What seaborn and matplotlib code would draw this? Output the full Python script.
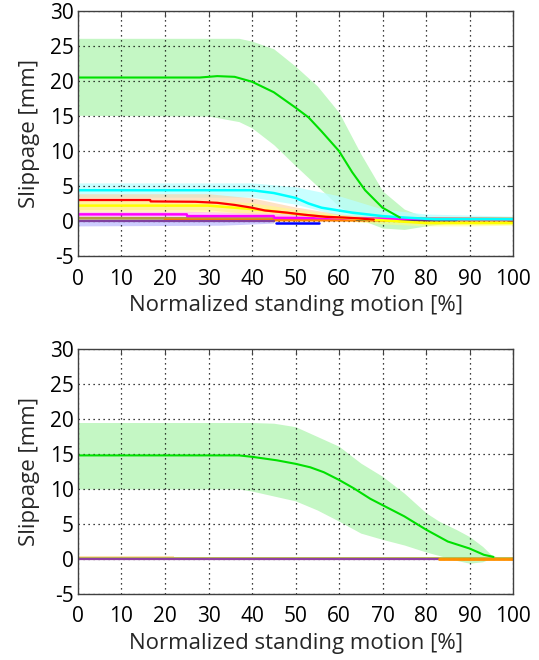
import numpy as np
import pandas as pd
import matplotlib
matplotlib.use("Agg")
import matplotlib.pyplot as plt
import seaborn as sns

# ---------------- data ----------------
# Top panel
top_green_x = [0, 28, 32, 36, 40, 45, 50, 53, 56, 60, 63, 66, 70, 74]
top_green_m = [20.5, 20.5, 20.7, 20.6, 19.9, 18.4, 16.2, 14.8, 12.8, 10.0, 7.0, 4.4, 1.9, 0.5]
top_green_bx = [0, 30, 37, 40, 45, 50, 55, 60, 65, 70, 75, 80, 85, 88]
top_green_hi = [26.1, 26.1, 26.1, 25.7, 24.6, 22.1, 19.3, 15.5, 9.6, 4.3, 1.7, 0.5, 0.2, 0.2]
top_green_lo = [15.1, 15.0, 14.2, 13.3, 10.9, 7.9, 5.0, 2.1, 0.2, -1.0, -1.2, -0.7, -0.3, -0.2]

top_cyan_x = [0, 40, 45, 50, 53, 56, 60, 63, 70, 75, 82, 100]
top_cyan_m = [4.4, 4.4, 4.0, 3.3, 2.5, 1.9, 1.5, 1.2, 0.7, 0.5, 0.25, 0.25]
top_cyan_bx = [0, 40, 50, 60, 70, 80, 100]
top_cyan_hi = [5.45, 5.45, 4.9, 3.6, 1.7, 1.0, 0.7]
top_cyan_lo = [3.4, 3.4, 2.4, 0.8, 0.2, -0.1, -0.1]

top_red_x = [0, 16.6, 16.7, 27, 32, 36, 40, 43, 48, 52, 57, 61, 64, 68]
top_red_m = [3.0, 3.0, 2.8, 2.75, 2.6, 2.3, 1.9, 1.5, 1.2, 0.9, 0.6, 0.5, 0.4, 0.2]
top_red_bx = [0, 30, 40, 50, 60, 70, 80]
top_red_hi = [3.9, 3.9, 3.3, 2.0, 1.0, 0.5, 0.3]
top_red_lo = [1.6, 1.6, 1.0, 0.3, 0.0, -0.1, -0.1]

top_yellow_x = [0, 30, 40, 45, 50, 55, 60, 65, 70, 80, 90, 100]
top_yellow_m = [2.2, 2.2, 1.7, 1.4, 1.0, 0.7, 0.5, 0.3, 0.1, -0.3, -0.3, -0.3]
top_yellow_bx = [0, 30, 40, 50, 60, 70, 80, 90, 100]
top_yellow_hi = [3.0, 3.0, 2.6, 1.7, 0.9, 0.3, 0.0, 0.0, 0.0]
top_yellow_lo = [1.2, 1.2, 0.9, 0.4, 0.1, -0.4, -0.7, -0.7, -0.6]

top_magenta_x = [0, 25, 25.1, 45, 45.1, 60, 70, 100]
top_magenta_m = [0.95, 0.95, 0.7, 0.7, 0.45, 0.4, 0.3, 0.25]
top_magenta_bx = [0, 25, 45, 60, 75]
top_magenta_hi = [1.4, 1.4, 1.1, 0.7, 0.4]
top_magenta_lo = [0.5, 0.5, 0.3, 0.1, 0.0]

top_olive_x = [0, 100]
top_olive_m = [0.4, 0.3]
top_orange_x = [20, 100]
top_orange_m = [0.15, 0.1]
top_purple_x = [0, 45]
top_purple_m = [0.0, 0.0]
top_purple_bx = [0, 33, 45]
top_purple_hi = [0.3, 0.3, 0.1]
top_purple_lo = [-0.7, -0.6, -0.3]
top_blue_x = [45.5, 55.5]
top_blue_m = [-0.33, -0.33]
top_dark_x = [64, 71, 78, 87]
top_dark_m = [0.25, 0.25, 0.15, 0.15]

# Bottom panel
bot_green_x = [0, 37, 40, 45.7, 50, 53.4, 56.5, 60, 63.4, 67.2, 70, 75, 80, 85, 90, 93.3, 95.5]
bot_green_m = [14.8, 14.8, 14.6, 14.1, 13.6, 13.1, 12.4, 11.3, 10.1, 8.6, 7.7, 6.1, 4.2, 2.5, 1.5, 0.6, 0.3]
bot_green_bx = [0, 37, 40, 45, 50, 55, 60, 65, 70, 75, 80, 83, 87, 90, 93, 95, 97.5]
bot_green_hi = [19.5, 19.5, 19.5, 19.4, 18.9, 17.5, 16.1, 13.7, 11.8, 9.4, 6.6, 5.4, 4.2, 3.2, 1.8, 0.6, 0.0]
bot_green_lo = [10.0, 10.0, 9.7, 9.0, 8.3, 7.0, 5.4, 3.7, 2.8, 2.0, 1.0, 0.5, -0.2, -0.6, -0.4, 0.1, 0.0]

bot_olive_x = [0, 100]
bot_olive_m = [0.2, 0.2]
bot_purple_x = [0, 83]
bot_purple_m = [0.0, 0.0]
bot_orange_x = [83, 100]
bot_orange_m = [0.0, 0.0]
bot_peach_bx = [0, 22]
bot_peach_hi = [0.4, 0.4]
bot_peach_lo = [0.0, 0.0]

x_ticks = [0, 10, 20, 30, 40, 50, 60, 70, 80, 90, 100]
y_ticks = [-5, 0, 5, 10, 15, 20, 25, 30]
x_label = "Normalized standing motion [%]"
y_label = "Slippage [mm]"

# ---------------- styling ----------------
sns.set_style("white")
plt.rcParams['font.family'] = ['Open Sans', 'DejaVu Sans']

fig = plt.figure(figsize=(5.39, 6.60), dpi=100)
ax1 = fig.add_axes([0.1447, 0.6121, 0.8071, 0.3712])
ax2 = fig.add_axes([0.1447, 0.1000, 0.8071, 0.3712])


def band(ax, x, lo, hi, color, alpha=1.0, z=1):
    ax.fill_between(x, lo, hi, color=color, alpha=alpha, linewidth=0, zorder=z)


def line(ax, x, y, color, lw=1.5, z=3):
    df = pd.DataFrame({"x": x, "y": y})
    sns.lineplot(data=df, x="x", y="y", ax=ax, color=color, linewidth=lw,
                 zorder=z, estimator=None, sort=False)


# top bands
band(ax1, top_green_bx, top_green_lo, top_green_hi, "#c4f7c4", 1.0, 1)
band(ax1, top_cyan_bx, top_cyan_lo, top_cyan_hi, "#b8ffff", 0.75, 1.2)
band(ax1, top_red_bx, top_red_lo, top_red_hi, "#ffcf9f", 0.6, 1.3)
band(ax1, top_yellow_bx, top_yellow_lo, top_yellow_hi, "#ffff80", 0.55, 1.4)
band(ax1, top_magenta_bx, top_magenta_lo, top_magenta_hi, "#ffb0ff", 0.6, 1.5)
band(ax1, top_purple_bx, top_purple_lo, top_purple_hi, "#b8b8ff", 0.7, 1.1)

# top lines
line(ax1, top_olive_x, top_olive_m, "#b0a040", 2.0, 2.5)
line(ax1, top_orange_x, top_orange_m, "#ff8000", 2.0, 2.6)
line(ax1, top_purple_x, top_purple_m, "#8040a0", 1.6, 2.7)
line(ax1, top_blue_x, top_blue_m, "#0000ff", 1.8, 2.7)
line(ax1, top_dark_x, top_dark_m, "#205050", 1.8, 2.8)
line(ax1, top_magenta_x, top_magenta_m, "#ff00ff", 1.8, 3)
line(ax1, top_yellow_x, top_yellow_m, "#ffff00", 1.8, 3.1)
line(ax1, top_red_x, top_red_m, "#ff0000", 1.6, 3.2)
line(ax1, top_cyan_x, top_cyan_m, "#00ffff", 1.8, 3.3)
line(ax1, top_green_x, top_green_m, "#00e000", 1.5, 3.4)

# bottom
band(ax2, bot_green_bx, bot_green_lo, bot_green_hi, "#c4f7c4", 1.0, 1)
band(ax2, bot_peach_bx, bot_peach_lo, bot_peach_hi, "#ffe0b0", 1.0, 1.2)
line(ax2, bot_olive_x, bot_olive_m, "#b8b840", 2.0, 2.5)
line(ax2, bot_purple_x, bot_purple_m, "#9040a0", 1.6, 2.6)
line(ax2, bot_orange_x, bot_orange_m, "#ff9000", 2.0, 2.6)
line(ax2, bot_green_x, bot_green_m, "#00e000", 1.5, 3.4)

FS = 15
LFS = 16
for ax in (ax1, ax2):
    ax.set_xlim(0, 100)
    ax.set_ylim(-5, 30)
    ax.set_xticks(x_ticks)
    ax.set_yticks(y_ticks)
    ax.set_xticklabels([str(t) for t in x_ticks])
    ax.set_yticklabels([str(t) for t in y_ticks])
    ax.grid(True, linestyle=(0, (1, 3)), color="black", linewidth=0.9)
    ax.set_axisbelow(False)
    for s in ax.spines.values():
        s.set_color("#404040")
        s.set_linewidth(1.0)
        s.set_zorder(5)
    ax.tick_params(direction="in", length=4, width=0.8, color="#404040",
                   top=True, right=True, labelsize=FS, labelcolor="black")
    ax.tick_params(axis="x", pad=9)
    ax.tick_params(axis="y", pad=3)
    ax.set_xlabel(x_label, fontsize=LFS)
    ax.set_ylabel(y_label, fontsize=LFS)
    ax.xaxis.set_label_coords(0.5, -0.16)
    ax.yaxis.set_label_coords(-0.087, 0.5)

fig.savefig("out.png", dpi=100, facecolor="white")
